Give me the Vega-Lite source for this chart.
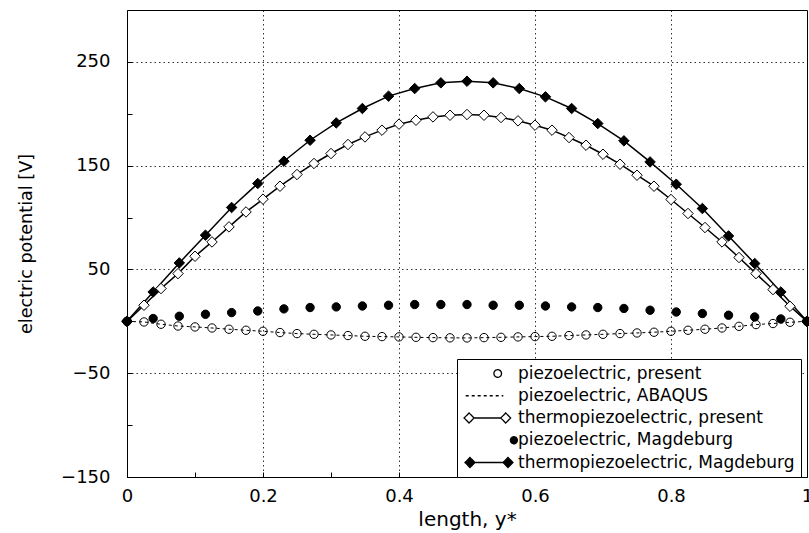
{
"$schema": "https://vega.github.io/schema/vega-lite/v6.json",
"autosize": "none",
"padding": {"left": 127, "top": 10, "right": 2, "bottom": 56},
"width": 680,
"height": 467,
"background": "white",
"config": {
  "font": "DejaVu Sans",
  "view": {"stroke": "black", "strokeWidth": 1},
  "axis": {
    "domainColor": "black", "tickColor": "black", "labelColor": "black", "titleColor": "black",
    "labelFont": "DejaVu Sans", "titleFont": "DejaVu Sans", "titleFontWeight": "normal",
    "gridColor": "black", "gridDash": [1.5, 3], "gridWidth": 0.8,
    "tickSize": -5, "labelFlush": false, "labelOverlap": false, "labelBound": false
  },
  "legend": {
    "title": null, "padding": 6, "strokeColor": "black", "fillColor": "white", "cornerRadius": 0,
    "symbolSize": 64, "symbolStrokeWidth": 1.3, "symbolStrokeColor": "black", "symbolOpacity": 1,
    "symbolOffset": 0, "labelOffset": 38, "rowPadding": 4.25,
    "labelFont": "DejaVu Sans", "labelFontSize": 17, "labelColor": "black", "labelLimit": 400
  }
},
"data": {"values": [
{"series":"piezoelectric, present","x":0,"y":0},{"series":"piezoelectric, present","x":0.025,"y":-0.6},{"series":"piezoelectric, present","x":0.05,"y":-2.8},{"series":"piezoelectric, present","x":0.075,"y":-4.5},{"series":"piezoelectric, present","x":0.1,"y":-5.4},{"series":"piezoelectric, present","x":0.125,"y":-6.4},{"series":"piezoelectric, present","x":0.15,"y":-7.6},{"series":"piezoelectric, present","x":0.175,"y":-8.6},{"series":"piezoelectric, present","x":0.2,"y":-9.6},{"series":"piezoelectric, present","x":0.225,"y":-10.8},{"series":"piezoelectric, present","x":0.25,"y":-11.8},{"series":"piezoelectric, present","x":0.275,"y":-12.5},{"series":"piezoelectric, present","x":0.3,"y":-13.1},{"series":"piezoelectric, present","x":0.325,"y":-13.7},{"series":"piezoelectric, present","x":0.35,"y":-14.4},{"series":"piezoelectric, present","x":0.375,"y":-14.7},{"series":"piezoelectric, present","x":0.4,"y":-15.0},{"series":"piezoelectric, present","x":0.425,"y":-15.4},{"series":"piezoelectric, present","x":0.45,"y":-15.7},{"series":"piezoelectric, present","x":0.475,"y":-15.9},{"series":"piezoelectric, present","x":0.5,"y":-16.0},{"series":"piezoelectric, present","x":0.525,"y":-15.7},{"series":"piezoelectric, present","x":0.55,"y":-15.4},{"series":"piezoelectric, present","x":0.575,"y":-15.0},{"series":"piezoelectric, present","x":0.6,"y":-14.7},{"series":"piezoelectric, present","x":0.625,"y":-14.4},{"series":"piezoelectric, present","x":0.65,"y":-13.7},{"series":"piezoelectric, present","x":0.675,"y":-13.1},{"series":"piezoelectric, present","x":0.7,"y":-12.5},{"series":"piezoelectric, present","x":0.725,"y":-11.8},{"series":"piezoelectric, present","x":0.75,"y":-11.2},{"series":"piezoelectric, present","x":0.775,"y":-10.5},{"series":"piezoelectric, present","x":0.8,"y":-9.6},{"series":"piezoelectric, present","x":0.825,"y":-8.6},{"series":"piezoelectric, present","x":0.85,"y":-7.6},{"series":"piezoelectric, present","x":0.875,"y":-6.4},{"series":"piezoelectric, present","x":0.9,"y":-4.8},{"series":"piezoelectric, present","x":0.925,"y":-3.1},{"series":"piezoelectric, present","x":0.95,"y":-2.1},{"series":"piezoelectric, present","x":0.975,"y":-0.9},{"series":"piezoelectric, present","x":1,"y":0},
{"series":"piezoelectric, ABAQUS","x":0,"y":0},{"series":"piezoelectric, ABAQUS","x":0.025,"y":-0.6},{"series":"piezoelectric, ABAQUS","x":0.05,"y":-2.8},{"series":"piezoelectric, ABAQUS","x":0.075,"y":-4.5},{"series":"piezoelectric, ABAQUS","x":0.1,"y":-5.4},{"series":"piezoelectric, ABAQUS","x":0.125,"y":-6.4},{"series":"piezoelectric, ABAQUS","x":0.15,"y":-7.6},{"series":"piezoelectric, ABAQUS","x":0.175,"y":-8.6},{"series":"piezoelectric, ABAQUS","x":0.2,"y":-9.6},{"series":"piezoelectric, ABAQUS","x":0.225,"y":-10.8},{"series":"piezoelectric, ABAQUS","x":0.25,"y":-11.8},{"series":"piezoelectric, ABAQUS","x":0.275,"y":-12.5},{"series":"piezoelectric, ABAQUS","x":0.3,"y":-13.1},{"series":"piezoelectric, ABAQUS","x":0.325,"y":-13.7},{"series":"piezoelectric, ABAQUS","x":0.35,"y":-14.4},{"series":"piezoelectric, ABAQUS","x":0.375,"y":-14.7},{"series":"piezoelectric, ABAQUS","x":0.4,"y":-15.0},{"series":"piezoelectric, ABAQUS","x":0.425,"y":-15.4},{"series":"piezoelectric, ABAQUS","x":0.45,"y":-15.7},{"series":"piezoelectric, ABAQUS","x":0.475,"y":-15.9},{"series":"piezoelectric, ABAQUS","x":0.5,"y":-16.0},{"series":"piezoelectric, ABAQUS","x":0.525,"y":-15.7},{"series":"piezoelectric, ABAQUS","x":0.55,"y":-15.4},{"series":"piezoelectric, ABAQUS","x":0.575,"y":-15.0},{"series":"piezoelectric, ABAQUS","x":0.6,"y":-14.7},{"series":"piezoelectric, ABAQUS","x":0.625,"y":-14.4},{"series":"piezoelectric, ABAQUS","x":0.65,"y":-13.7},{"series":"piezoelectric, ABAQUS","x":0.675,"y":-13.1},{"series":"piezoelectric, ABAQUS","x":0.7,"y":-12.5},{"series":"piezoelectric, ABAQUS","x":0.725,"y":-11.8},{"series":"piezoelectric, ABAQUS","x":0.75,"y":-11.2},{"series":"piezoelectric, ABAQUS","x":0.775,"y":-10.5},{"series":"piezoelectric, ABAQUS","x":0.8,"y":-9.6},{"series":"piezoelectric, ABAQUS","x":0.825,"y":-8.6},{"series":"piezoelectric, ABAQUS","x":0.85,"y":-7.6},{"series":"piezoelectric, ABAQUS","x":0.875,"y":-6.4},{"series":"piezoelectric, ABAQUS","x":0.9,"y":-4.8},{"series":"piezoelectric, ABAQUS","x":0.925,"y":-3.1},{"series":"piezoelectric, ABAQUS","x":0.95,"y":-2.1},{"series":"piezoelectric, ABAQUS","x":0.975,"y":-0.9},{"series":"piezoelectric, ABAQUS","x":1,"y":0},
{"series":"thermopiezoelectric, present","x":0,"y":0},{"series":"thermopiezoelectric, present","x":0.025,"y":15.5},{"series":"thermopiezoelectric, present","x":0.05,"y":31.6},{"series":"thermopiezoelectric, present","x":0.075,"y":46},{"series":"thermopiezoelectric, present","x":0.1,"y":62.7},{"series":"thermopiezoelectric, present","x":0.125,"y":76.5},{"series":"thermopiezoelectric, present","x":0.15,"y":91},{"series":"thermopiezoelectric, present","x":0.175,"y":105.4},{"series":"thermopiezoelectric, present","x":0.2,"y":117.7},{"series":"thermopiezoelectric, present","x":0.225,"y":130.2},{"series":"thermopiezoelectric, present","x":0.25,"y":141.5},{"series":"thermopiezoelectric, present","x":0.275,"y":152.1},{"series":"thermopiezoelectric, present","x":0.3,"y":161.7},{"series":"thermopiezoelectric, present","x":0.325,"y":170.4},{"series":"thermopiezoelectric, present","x":0.35,"y":177.7},{"series":"thermopiezoelectric, present","x":0.375,"y":184.2},{"series":"thermopiezoelectric, present","x":0.4,"y":190},{"series":"thermopiezoelectric, present","x":0.425,"y":193.8},{"series":"thermopiezoelectric, present","x":0.45,"y":197},{"series":"thermopiezoelectric, present","x":0.475,"y":198.6},{"series":"thermopiezoelectric, present","x":0.5,"y":199.3},{"series":"thermopiezoelectric, present","x":0.525,"y":198.6},{"series":"thermopiezoelectric, present","x":0.55,"y":196.4},{"series":"thermopiezoelectric, present","x":0.575,"y":193.2},{"series":"thermopiezoelectric, present","x":0.6,"y":189},{"series":"thermopiezoelectric, present","x":0.625,"y":184.2},{"series":"thermopiezoelectric, present","x":0.65,"y":177.1},{"series":"thermopiezoelectric, present","x":0.675,"y":169.7},{"series":"thermopiezoelectric, present","x":0.7,"y":161},{"series":"thermopiezoelectric, present","x":0.725,"y":151.4},{"series":"thermopiezoelectric, present","x":0.75,"y":140.8},{"series":"thermopiezoelectric, present","x":0.775,"y":130.2},{"series":"thermopiezoelectric, present","x":0.8,"y":117.4},{"series":"thermopiezoelectric, present","x":0.825,"y":103.9},{"series":"thermopiezoelectric, present","x":0.85,"y":90.4},{"series":"thermopiezoelectric, present","x":0.875,"y":76.5},{"series":"thermopiezoelectric, present","x":0.9,"y":61.5},{"series":"thermopiezoelectric, present","x":0.925,"y":46},{"series":"thermopiezoelectric, present","x":0.95,"y":30.6},{"series":"thermopiezoelectric, present","x":0.975,"y":14.5},{"series":"thermopiezoelectric, present","x":1,"y":0},
{"series":"piezoelectric, Magdeburg","x":0,"y":0},{"series":"piezoelectric, Magdeburg","x":0.03846,"y":2.7},{"series":"piezoelectric, Magdeburg","x":0.07692,"y":4.9},{"series":"piezoelectric, Magdeburg","x":0.11538,"y":6.8},{"series":"piezoelectric, Magdeburg","x":0.15385,"y":8.4},{"series":"piezoelectric, Magdeburg","x":0.19231,"y":10},{"series":"piezoelectric, Magdeburg","x":0.23077,"y":12},{"series":"piezoelectric, Magdeburg","x":0.26923,"y":13.3},{"series":"piezoelectric, Magdeburg","x":0.30769,"y":13.9},{"series":"piezoelectric, Magdeburg","x":0.34615,"y":14.8},{"series":"piezoelectric, Magdeburg","x":0.38462,"y":15.5},{"series":"piezoelectric, Magdeburg","x":0.42308,"y":16.2},{"series":"piezoelectric, Magdeburg","x":0.46154,"y":16.2},{"series":"piezoelectric, Magdeburg","x":0.5,"y":16.2},{"series":"piezoelectric, Magdeburg","x":0.53846,"y":15.5},{"series":"piezoelectric, Magdeburg","x":0.57692,"y":15.5},{"series":"piezoelectric, Magdeburg","x":0.61538,"y":14.8},{"series":"piezoelectric, Magdeburg","x":0.65385,"y":13.9},{"series":"piezoelectric, Magdeburg","x":0.69231,"y":13.3},{"series":"piezoelectric, Magdeburg","x":0.73077,"y":12.4},{"series":"piezoelectric, Magdeburg","x":0.76923,"y":10.7},{"series":"piezoelectric, Magdeburg","x":0.80769,"y":9},{"series":"piezoelectric, Magdeburg","x":0.84615,"y":7.5},{"series":"piezoelectric, Magdeburg","x":0.88462,"y":5.9},{"series":"piezoelectric, Magdeburg","x":0.92308,"y":4.2},{"series":"piezoelectric, Magdeburg","x":0.96154,"y":2.3},{"series":"piezoelectric, Magdeburg","x":1,"y":0},
{"series":"thermopiezoelectric, Magdeburg","x":0,"y":0},{"series":"thermopiezoelectric, Magdeburg","x":0.03846,"y":28.3},{"series":"thermopiezoelectric, Magdeburg","x":0.07692,"y":56.3},{"series":"thermopiezoelectric, Magdeburg","x":0.11538,"y":83},{"series":"thermopiezoelectric, Magdeburg","x":0.15385,"y":109.7},{"series":"thermopiezoelectric, Magdeburg","x":0.19231,"y":132.8},{"series":"thermopiezoelectric, Magdeburg","x":0.23077,"y":154.3},{"series":"thermopiezoelectric, Magdeburg","x":0.26923,"y":174.5},{"series":"thermopiezoelectric, Magdeburg","x":0.30769,"y":191.2},{"series":"thermopiezoelectric, Magdeburg","x":0.34615,"y":205.1},{"series":"thermopiezoelectric, Magdeburg","x":0.38462,"y":217},{"series":"thermopiezoelectric, Magdeburg","x":0.42308,"y":224.3},{"series":"thermopiezoelectric, Magdeburg","x":0.46154,"y":229.8},{"series":"thermopiezoelectric, Magdeburg","x":0.5,"y":231.4},{"series":"thermopiezoelectric, Magdeburg","x":0.53846,"y":229.8},{"series":"thermopiezoelectric, Magdeburg","x":0.57692,"y":224.3},{"series":"thermopiezoelectric, Magdeburg","x":0.61538,"y":216.3},{"series":"thermopiezoelectric, Magdeburg","x":0.65385,"y":205.1},{"series":"thermopiezoelectric, Magdeburg","x":0.69231,"y":190.6},{"series":"thermopiezoelectric, Magdeburg","x":0.73077,"y":173.9},{"series":"thermopiezoelectric, Magdeburg","x":0.76923,"y":153.6},{"series":"thermopiezoelectric, Magdeburg","x":0.80769,"y":132.1},{"series":"thermopiezoelectric, Magdeburg","x":0.84615,"y":108.7},{"series":"thermopiezoelectric, Magdeburg","x":0.88462,"y":82.3},{"series":"thermopiezoelectric, Magdeburg","x":0.92308,"y":55.7},{"series":"thermopiezoelectric, Magdeburg","x":0.96154,"y":28.3},{"series":"thermopiezoelectric, Magdeburg","x":1,"y":0}
]},
"encoding": {
  "x": {"field": "x", "type": "quantitative",
    "scale": {"domain": [0, 1], "nice": false, "zero": false},
    "axis": {
      "title": "length, y*", "titleFontSize": 20, "titlePadding": 4,
      "values": [0, 0.1, 0.2, 0.3, 0.4, 0.5, 0.6, 0.7, 0.8, 0.9, 1],
      "labelExpr": "round(datum.value*10) % 2 === 0 ? format(datum.value, '~g') : ''",
      "labelFontSize": 18, "labelPadding": 15,
      "grid": true,
      "gridOpacity": {"condition": {"test": "round(datum.value*10) % 2 === 0 && datum.value > 0.05 && datum.value < 0.95", "value": 1}, "value": 0}
    }},
  "y": {"field": "y", "type": "quantitative",
    "scale": {"domain": [-150, 300], "nice": false, "zero": false},
    "axis": {
      "title": "electric potential [V]", "titleFontSize": 17.6, "titlePadding": 25,
      "values": [-150, -100, -50, 0, 50, 100, 150, 200, 250],
      "labelExpr": "(datum.value + 150) % 100 === 0 ? replace(format(datum.value, 'd'), '-', '\u2212') : ''",
      "labelFontSize": 18, "labelPadding": 22,
      "grid": true,
      "gridOpacity": {"condition": {"test": "(datum.value + 150) % 100 === 0 && datum.value > -150", "value": 1}, "value": 0}
    }}
},
"layer": [
  {
    "transform": [{"filter": "datum.series === 'piezoelectric, ABAQUS'"}],
    "mark": {"type": "line", "stroke": "black", "strokeWidth": 1, "strokeDash": [3, 3]}
  },
  {
    "transform": [{"filter": "datum.series === 'thermopiezoelectric, present' || datum.series === 'thermopiezoelectric, Magdeburg'"}],
    "mark": {"type": "line", "stroke": "black", "strokeWidth": 1.5},
    "encoding": {"detail": {"field": "series"}}
  },
  {
    "transform": [{"filter": "datum.series === 'piezoelectric, present'"}],
    "mark": {"type": "point", "shape": "circle", "filled": true, "fill": "transparent", "stroke": "black", "strokeWidth": 1, "size": 70, "opacity": 1}
  },
  {
    "transform": [{"filter": "datum.series === 'thermopiezoelectric, present'"}],
    "mark": {"type": "point", "shape": "diamond", "filled": true, "fill": "white", "stroke": "black", "strokeWidth": 1, "size": 110, "opacity": 1}
  },
  {
    "transform": [{"filter": "datum.series === 'piezoelectric, Magdeburg'"}],
    "mark": {"type": "point", "shape": "circle", "filled": true, "fill": "black", "stroke": "black", "strokeWidth": 1, "size": 70, "opacity": 1}
  },
  {
    "transform": [{"filter": "datum.series === 'thermopiezoelectric, Magdeburg'"}],
    "mark": {"type": "point", "shape": "diamond", "filled": true, "fill": "black", "stroke": "black", "strokeWidth": 1, "size": 110, "opacity": 1}
  },
  {
    "transform": [{"filter": "datum.x > 2"}],
    "mark": {"type": "point", "filled": true, "stroke": "black", "strokeWidth": 1.3},
    "encoding": {
      "shape": {"field": "series", "type": "nominal",
        "scale": {"domain": ["piezoelectric, present", "piezoelectric, ABAQUS", "thermopiezoelectric, present", "piezoelectric, Magdeburg", "thermopiezoelectric, Magdeburg"],
                  "range": [
                    "M5.6,0A0.95,0.95,0,1,1,7.5,0A0.95,0.95,0,1,1,5.6,0Z",
                    "M-1.45,0L7.95,0",
                    "M-1.85,0L-0.6,-1.25L0.65,0L-0.6,1.25ZM0.65,0L7.3,0M7.3,0L8.55,-1.25L9.8,0L8.55,1.25Z",
                    "M9.725,0A0.875,0.875,0,1,1,11.475,0A0.875,0.875,0,1,1,9.725,0Z",
                    "M-1.625,0L-0.375,-1.25L0.875,0L-0.375,1.25ZM0.875,0L7.875,0M7.875,0L9.125,-1.25L10.375,0L9.125,1.25Z"
                  ]},
        "legend": {"orient": "none", "legendX": 330, "legendY": 349}},
      "fill": {"field": "series", "type": "nominal",
        "scale": {"domain": ["piezoelectric, present", "piezoelectric, ABAQUS", "thermopiezoelectric, present", "piezoelectric, Magdeburg", "thermopiezoelectric, Magdeburg"],
                  "range": ["white", "transparent", "white", "black", "black"]},
        "legend": {"orient": "none", "legendX": 330, "legendY": 349}},
      "stroke": {"field": "series", "type": "nominal",
        "scale": {"domain": ["piezoelectric, present", "piezoelectric, ABAQUS", "thermopiezoelectric, present", "piezoelectric, Magdeburg", "thermopiezoelectric, Magdeburg"],
                  "range": ["black", "black", "black", "black", "black"]},
        "legend": {"orient": "none", "legendX": 330, "legendY": 349}},
      "strokeDash": {"field": "series", "type": "nominal",
        "scale": {"domain": ["piezoelectric, present", "piezoelectric, ABAQUS", "thermopiezoelectric, present", "piezoelectric, Magdeburg", "thermopiezoelectric, Magdeburg"],
                  "range": [[1, 0], [3, 3], [1, 0], [1, 0], [1, 0]]},
        "legend": {"orient": "none", "legendX": 330, "legendY": 349}}
    }
  }
]
}
